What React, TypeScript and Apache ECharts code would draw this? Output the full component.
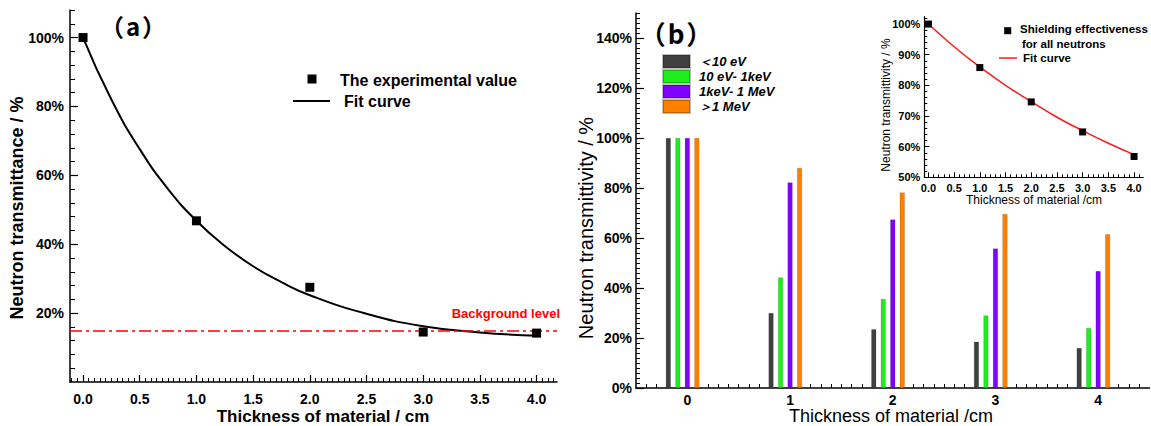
import React, { useEffect, useRef } from "react";
import * as echarts from "echarts";

// ---------- Panel (a) data ----------
const thicknessA = [0, 1, 2, 3, 4];
const experimentalA = [100, 46.8, 27.5, 14.5, 14.2];
const fitXA = [0, 0.25, 0.5, 0.75, 1, 1.25, 1.5, 1.75, 2, 2.5, 3, 3.5, 4];
const fitYA = [100, 82, 67.6, 56, 46.8, 39.5, 33.6, 29, 25.2, 19.8, 16.2, 14.4, 13.4];
const backgroundLevel = 15;
const xTicksA = [0, 0.5, 1, 1.5, 2, 2.5, 3, 3.5, 4];
const yTicksA = [20, 40, 60, 80, 100];

// ---------- Panel (b) data ----------
const categoriesB = ["0", "1", "2", "3", "4"];
const seriesNamesB = ["＜10 eV", "10 eV- 1keV", "1keV- 1 MeV", "＞1 MeV"];
const below10eV = [100, 30, 23.5, 18.5, 16];
const from10eVto1keV = [100, 44.2, 35.6, 29, 24];
const from1keVto1MeV = [100, 82.2, 67.4, 55.8, 46.8];
const above1MeV = [100, 88, 78.2, 69.6, 61.5];
const yTicksB = [0, 20, 40, 60, 80, 100, 120, 140];

// ---------- Inset data ----------
const thicknessInset = [0, 1, 2, 3, 4];
const shieldingInset = [100, 85.8, 74.6, 64.8, 56.8];
const fitXInset = [0, 0.5, 1, 1.5, 2, 2.5, 3, 3.5, 4];
const fitYInset = [100, 92.6, 86, 80, 74.7, 69.6, 65.2, 61.1, 57.4];
const xTicksInset = [0, 0.5, 1, 1.5, 2, 2.5, 3, 3.5, 4];
const yTicksInset = [50, 60, 70, 80, 90, 100];

const FONT = "'Liberation Sans', Arial, sans-serif";
const CJK = "'Noto Sans CJK SC', 'Liberation Sans', sans-serif";

function tickRange(start: number, end: number, step: number, skip: number[]) {
  const out: number[] = [];
  const n = Math.round((end - start) / step);
  for (let i = 0; i <= n; i++) {
    const v = Math.round((start + i * step) * 1000) / 1000;
    if (!skip.some((s) => Math.abs(s - v) < 1e-6)) out.push(v);
  }
  return out;
}

const zip = (xs: number[], ys: number[]) => xs.map((x, i) => [x, ys[i]]);

const axisLineStyle = { color: "#000", width: 1.5 };

function minorAxis(
  gridIndex: number,
  position: string,
  min: number,
  max: number,
  values: number[],
  len = 4
) {
  return {
    type: "value",
    gridIndex,
    position,
    min,
    max,
    axisLine: { show: false, onZero: false },
    axisLabel: { show: false },
    splitLine: { show: false },
    axisTick: {
      show: true,
      inside: true,
      length: len,
      customValues: values,
      lineStyle: { color: "#000", width: 1 },
    },
  };
}

export default function App() {
  const ref = useRef<HTMLDivElement>(null);

  useEffect(() => {
    if (!ref.current) return;
    const chart = echarts.init(ref.current, null, { renderer: "svg" });

    const option: any = {
      animation: false,
      backgroundColor: "#fff",
      grid: [
        { left: 70, top: 10, width: 487, height: 372 },
        { left: 636, top: 13, width: 513.5, height: 375 },
        { left: 924.3, top: 16.7, width: 219, height: 160.6 },
      ],
      xAxis: [
        {
          type: "value",
          gridIndex: 0,
          position: "bottom",
          min: -0.115,
          max: 4.18,
          axisLine: { show: true, onZero: false, lineStyle: axisLineStyle },
          axisTick: { show: true, inside: true, length: 7, customValues: xTicksA, lineStyle: { color: "#000", width: 1.2 } },
          axisLabel: {
            customValues: xTicksA,
            formatter: (v: number) => v.toFixed(1),
            fontFamily: FONT,
            fontWeight: "bold",
            fontSize: 14,
            color: "#000",
            margin: 10,
          },
          splitLine: { show: false },
        },
        minorAxis(0, "bottom", -0.115, 4.18, tickRange(-0.1, 4.15, 0.05, xTicksA)),
        {
          type: "category",
          gridIndex: 1,
          position: "bottom",
          data: categoriesB,
          boundaryGap: true,
          axisLine: { show: true, onZero: false, lineStyle: axisLineStyle },
          axisTick: { show: true, alignWithLabel: true, inside: true, length: 8, lineStyle: { color: "#000", width: 1.2 } },
          axisLabel: { fontFamily: FONT, fontWeight: "bold", fontSize: 14, color: "#000", margin: 5 },
          splitLine: { show: false },
        },
        minorAxis(1, "bottom", -0.5, 4.5, tickRange(-0.4, 4.4, 0.1, [0, 1, 2, 3, 4])),
        {
          type: "value",
          gridIndex: 2,
          position: "bottom",
          min: -0.08,
          max: 4.18,
          axisLine: { show: true, onZero: false, lineStyle: { color: "#000", width: 1.2 } },
          axisTick: { show: true, inside: true, length: 5, customValues: xTicksInset, lineStyle: { color: "#000" } },
          axisLabel: {
            customValues: xTicksInset,
            formatter: (v: number) => v.toFixed(1),
            fontFamily: FONT,
            fontWeight: "bold",
            fontSize: 11,
            color: "#000",
            margin: 5,
          },
          splitLine: { show: false },
        },
        minorAxis(2, "bottom", -0.08, 4.18, tickRange(0.1, 4.1, 0.1, xTicksInset), 3),
      ],
      yAxis: [
        {
          type: "value",
          gridIndex: 0,
          position: "left",
          min: 0,
          max: 108,
          axisLine: { show: true, onZero: false, lineStyle: axisLineStyle },
          axisTick: { show: true, inside: true, length: 8, customValues: yTicksA, lineStyle: { color: "#000", width: 1.2 } },
          axisLabel: {
            customValues: yTicksA,
            formatter: "{value}%",
            fontFamily: FONT,
            fontWeight: "bold",
            fontSize: 14,
            color: "#000",
            margin: 6,
          },
          splitLine: { show: false },
        },
        minorAxis(0, "left", 0, 108, tickRange(4, 108, 4, yTicksA), 5),
        {
          type: "value",
          gridIndex: 1,
          position: "left",
          min: 0,
          max: 150,
          axisLine: { show: true, onZero: false, lineStyle: axisLineStyle },
          axisTick: { show: true, inside: true, length: 8, customValues: yTicksB, lineStyle: { color: "#000", width: 1.2 } },
          axisLabel: {
            customValues: yTicksB,
            formatter: "{value}%",
            fontFamily: FONT,
            fontWeight: "bold",
            fontSize: 14,
            color: "#000",
            margin: 4,
          },
          splitLine: { show: false },
        },
        minorAxis(1, "left", 0, 150, tickRange(2, 150, 2, yTicksB), 4),
        {
          type: "value",
          gridIndex: 2,
          position: "left",
          min: 50,
          max: 102.4,
          axisLine: { show: true, onZero: false, lineStyle: { color: "#000", width: 1.2 } },
          axisTick: { show: true, inside: true, length: 5, customValues: yTicksInset, lineStyle: { color: "#000" } },
          axisLabel: {
            customValues: yTicksInset,
            formatter: "{value}%",
            fontFamily: FONT,
            fontWeight: "bold",
            fontSize: 11,
            color: "#000",
            margin: 4,
          },
          splitLine: { show: false },
        },
        minorAxis(2, "left", 50, 102.4, tickRange(52, 102, 2, yTicksInset), 3),
      ],
      legend: {
        data: seriesNamesB,
        orient: "vertical",
        left: 662,
        top: 54,
        padding: 0,
        itemWidth: 27,
        itemHeight: 13,
        itemGap: 0,
        icon: "rect",
        selectedMode: false,
        textStyle: {
          fontFamily: FONT,
          fontWeight: "bold",
          fontStyle: "italic",
          fontSize: 13,
          lineHeight: 13,
          color: "#000",
          padding: [0, 0, 0, 4],
        },
      },
      series: [
        {
          name: "The experimental value",
          type: "scatter",
          xAxisIndex: 0,
          yAxisIndex: 0,
          data: zip(thicknessA, experimentalA),
          symbol: "rect",
          symbolSize: 9,
          itemStyle: { color: "#000", opacity: 1 },
          z: 5,
        },
        {
          name: "Fit curve",
          type: "line",
          xAxisIndex: 0,
          yAxisIndex: 0,
          data: zip(fitXA, fitYA),
          smooth: true,
          showSymbol: false,
          symbol: "none",
          lineStyle: { color: "#000", width: 2 },
          markLine: {
            silent: true,
            symbol: "none",
            data: [{ yAxis: backgroundLevel }],
            lineStyle: { color: "#ff0000", type: [12, 4, 3, 4], width: 1.6 },
            label: {
              show: true,
              position: "insideEndTop",
              formatter: "Background level",
              color: "#ff0000",
              fontFamily: FONT,
              fontWeight: "bold",
              fontSize: 13,
              distance: [0, 10],
              padding: [0, -3, 0, 0],
            },
          },
        },
        ...[below10eV, from10eVto1keV, from1keVto1MeV, above1MeV].map((d, i) => ({
          name: seriesNamesB[i],
          type: "bar",
          xAxisIndex: 2,
          yAxisIndex: 2,
          data: d,
          barWidth: 5,
          barGap: "90%",
          itemStyle: {
            color: ["#404040", "#1eee1e", "#7f00ff", "#ff8000"][i],
            borderColor: "rgba(0,0,0,0.25)",
            borderWidth: 0.5,
          },
        })),
        {
          name: "spacer",
          type: "bar",
          xAxisIndex: 2,
          yAxisIndex: 2,
          data: [],
          barWidth: 5,
          barGap: "90%",
          silent: true,
        },
        {
          name: "Shielding effectiveness for all neutrons",
          type: "scatter",
          xAxisIndex: 4,
          yAxisIndex: 4,
          data: zip(thicknessInset, shieldingInset),
          symbol: "rect",
          symbolSize: 7,
          itemStyle: { color: "#000", opacity: 1 },
          z: 5,
        },
        {
          name: "Inset fit curve",
          type: "line",
          xAxisIndex: 4,
          yAxisIndex: 4,
          data: zip(fitXInset, fitYInset),
          smooth: true,
          showSymbol: false,
          symbol: "none",
          lineStyle: { color: "#ff1a1a", width: 1.5 },
        },
      ],
      graphic: [
        // panel titles
        {
          type: "text",
          x: 133,
          y: 25,
          style: {
            text: "{p|（}a{p|）}",
            font: `bold 24px ${CJK}`,
            fill: "#000",
            align: "center",
            verticalAlign: "middle",
            rich: { p: { font: `bold 24px ${CJK}`, fill: "#000", padding: [0, 2, 0, 2] } },
          },
        },
        {
          type: "text",
          x: 676,
          y: 32,
          style: {
            text: "{p|（}b{p|）}",
            font: `bold 26px ${CJK}`,
            fill: "#000",
            align: "center",
            verticalAlign: "middle",
            rich: { p: { font: `bold 26px ${CJK}`, fill: "#000", padding: [0, 2, 0, 2] } },
          },
        },
        // axis names
        { type: "text", x: 17, y: 208, rotation: Math.PI / 2, style: { text: "Neutron transmittance / %", font: `bold 18px ${FONT}`, fill: "#000", align: "center", verticalAlign: "middle" } },
        { type: "text", x: 323, y: 416, style: { text: "Thickness of material / cm", font: `bold 17px ${FONT}`, fill: "#000", align: "center", verticalAlign: "middle" } },
        { type: "text", x: 586, y: 228, rotation: Math.PI / 2, style: { text: "Neutron transmittivity / %", font: `20px ${FONT}`, fill: "#000", align: "center", verticalAlign: "middle" } },
        { type: "text", x: 891, y: 416, style: { text: "Thickness of material /cm", font: `18px ${FONT}`, fill: "#000", align: "center", verticalAlign: "middle" } },
        { type: "text", x: 886, y: 105, rotation: Math.PI / 2, style: { text: "Neutron transmittivity / %", font: `12px ${FONT}`, fill: "#000", align: "center", verticalAlign: "middle" } },
        { type: "text", x: 1034, y: 200, style: { text: "Thickness of material /cm", font: `12px ${FONT}`, fill: "#000", align: "center", verticalAlign: "middle" } },
        // legend (a)
        { type: "rect", shape: { x: 307.5, y: 74.5, width: 9, height: 9 }, style: { fill: "#000" } },
        { type: "text", x: 340, y: 80, style: { text: "The experimental value", font: `bold 16px ${FONT}`, fill: "#000", align: "left", verticalAlign: "middle" } },
        { type: "line", shape: { x1: 293, y1: 101, x2: 330, y2: 101 }, style: { stroke: "#000", lineWidth: 2 } },
        { type: "text", x: 344, y: 101, style: { text: "Fit curve", font: `bold 16px ${FONT}`, fill: "#000", align: "left", verticalAlign: "middle" } },
        // inset legend
        { type: "rect", shape: { x: 1004.2, y: 27.2, width: 7, height: 7 }, style: { fill: "#000" } },
        { type: "text", x: 1020, y: 29, style: { text: "Shielding effectiveness", font: `bold 11.5px ${FONT}`, fill: "#000", align: "left", verticalAlign: "middle" } },
        { type: "text", x: 1022, y: 43.5, style: { text: "for all neutrons", font: `bold 11.5px ${FONT}`, fill: "#000", align: "left", verticalAlign: "middle" } },
        { type: "line", shape: { x1: 999, y1: 58, x2: 1017, y2: 58 }, style: { stroke: "#ff1a1a", lineWidth: 1.5 } },
        { type: "text", x: 1023, y: 58, style: { text: "Fit curve", font: `bold 11.5px ${FONT}`, fill: "#000", align: "left", verticalAlign: "middle" } },
      ],
    };

    chart.setOption(option);
    return () => chart.dispose();
  }, []);

  return (
    <div
      ref={ref}
      style={{ position: "fixed", left: 0, top: 0, width: 1151, height: 426, background: "#fff" }}
    />
  );
}
